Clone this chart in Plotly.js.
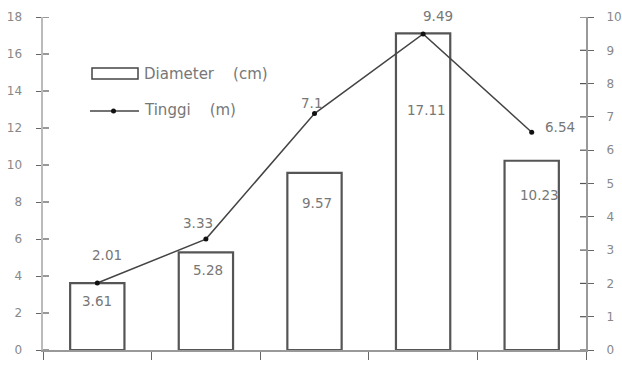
<!DOCTYPE html>
<html><head><meta charset="utf-8">
<script src="https://cdn.plot.ly/plotly-3.0.1.min.js"></script>
<style>html,body{margin:0;padding:0;background:#fff}</style>
</head><body><div id="c" style="width:622px;height:365px"></div>
<script>
var categories = ['A','B','C','D','E'];
var diameter = [3.61, 5.28, 9.57, 17.11, 10.23];
var tinggi = [2.01, 3.33, 7.1, 9.49, 6.54];
var seriesNames = ['Diameter  (cm)', 'Tinggi  (m)'];
var leftTicks = [0, 2, 4, 6, 8, 10, 12, 14, 16, 18];
var rightTicks = [0, 1, 2, 3, 4, 5, 6, 7, 8, 9, 10];

// label offsets in pixels (styling only)
var barLabelShiftY = [-18, -18, -30, -77, -34];
var barLabelShiftX = [0, 2, 2, 3, 8];
var lineLabelShiftY = [28, 16, 11, 18, 5];
var lineLabelShiftX = [10, -8, -3, 15, 11];
var lineLabelAnchor = ['center','center','center','center','left'];

var fontFam = 'DejaVu Sans, Arial, sans-serif';
var lblFont = {family:fontFam, size:13.5, color:'#777'};
var axFont = {family:fontFam, size:12, color:'#888'};

var traces = [
  {type:'bar', x:categories, y:diameter, name:seriesNames[0], showlegend:false,
   width:0.5, marker:{color:'#fff', line:{color:'#555', width:2.2}}, yaxis:'y'},
  {type:'scatter', mode:'lines+markers', x:categories, y:tinggi, name:seriesNames[1], showlegend:false,
   line:{color:'#444', width:1.5}, marker:{color:'#111', size:5}, cliponaxis:false, yaxis:'y2'}
];

var annotations = [];
diameter.forEach(function(v, i){
  annotations.push({x:i, y:v, xref:'x', yref:'y', text:String(v), showarrow:false,
    xanchor:'center', yanchor:'middle', xshift:barLabelShiftX[i], yshift:barLabelShiftY[i], font:lblFont});
});
tinggi.forEach(function(v, i){
  annotations.push({x:i, y:v, xref:'x', yref:'y2', text:String(v), showarrow:false,
    xanchor:lineLabelAnchor[i], yanchor:'middle', xshift:lineLabelShiftX[i], yshift:lineLabelShiftY[i], font:lblFont});
});
// manual legend (text)
var legFont = {family:fontFam, size:15, color:'#777'};
annotations.push({xref:'paper', yref:'paper', x:(142-43)/543, y:(350-74)/333, text:seriesNames[0].replace('  ', '\u00a0\u00a0\u00a0\u00a0'),
  showarrow:false, xanchor:'left', yanchor:'middle', font:legFont});
annotations.push({xref:'paper', yref:'paper', x:(142-43)/543, y:(350-110)/333, text:seriesNames[1].replace('  ', '\u00a0\u00a0\u00a0\u00a0'),
  showarrow:false, xanchor:'left', yanchor:'middle', font:legFont});

var shapes = [
  {type:'rect', xref:'paper', yref:'paper', x0:(92-43)/543, x1:(138-43)/543, y0:(350-79)/333, y1:(350-68)/333,
   line:{color:'#444', width:1.5}, fillcolor:'#fff'},
  {type:'line', xref:'paper', yref:'paper', x0:(90-43)/543, x1:(139-43)/543, y0:(350-111)/333, y1:(350-111)/333,
   line:{color:'#444', width:1.5}},
  {type:'circle', xref:'paper', yref:'paper', x0:(111-43)/543, x1:(116-43)/543, y0:(350-113.5)/333, y1:(350-108.5)/333,
   line:{color:'#111', width:0}, fillcolor:'#111'}
];
// inner halves of the crossing axis ticks (paper-fraction lengths)
var tickInL = 6 / 543;
leftTicks.forEach(function(v){
  shapes.push({type:'line', xref:'paper', x0:0, x1:tickInL, yref:'y', y0:v, y1:v,
    line:{color:'#555', width:1.2}, layer:'above'});
});
rightTicks.forEach(function(v){
  shapes.push({type:'line', xref:'paper', x0:1 - tickInL, x1:1, yref:'y2', y0:v, y1:v,
    line:{color:'#555', width:1.2}, layer:'above'});
});

var layout = {
  width:622, height:365, margin:{l:43, r:36, t:17, b:15},
  paper_bgcolor:'#fff', plot_bgcolor:'#fff', showlegend:false,
  annotations:annotations, shapes:shapes,
  xaxis:{type:'category', range:[-0.5, 4.5], showticklabels:false, showline:true, linecolor:'#999', linewidth:2,
         ticks:'outside', tickson:'boundaries', ticklen:8, tickcolor:'#666', showgrid:false, zeroline:false},
  yaxis:{range:[0,18], tickvals:leftTicks, showline:true, linecolor:'#bbb', linewidth:2.5, ticks:'outside',
         ticklen:5, tickcolor:'#666', showgrid:false, zeroline:false, tickfont:axFont, ticklabelstandoff:11},
  yaxis2:{range:[0,10], tickvals:rightTicks, overlaying:'y', side:'right', showline:true, linecolor:'#999', linewidth:2,
          ticks:'outside', ticklen:6, tickcolor:'#666', showgrid:false, zeroline:false, tickfont:axFont, ticklabelstandoff:10}
};
Plotly.newPlot('c', traces, layout, {displayModeBar:false, staticPlot:true});
</script></body></html>
